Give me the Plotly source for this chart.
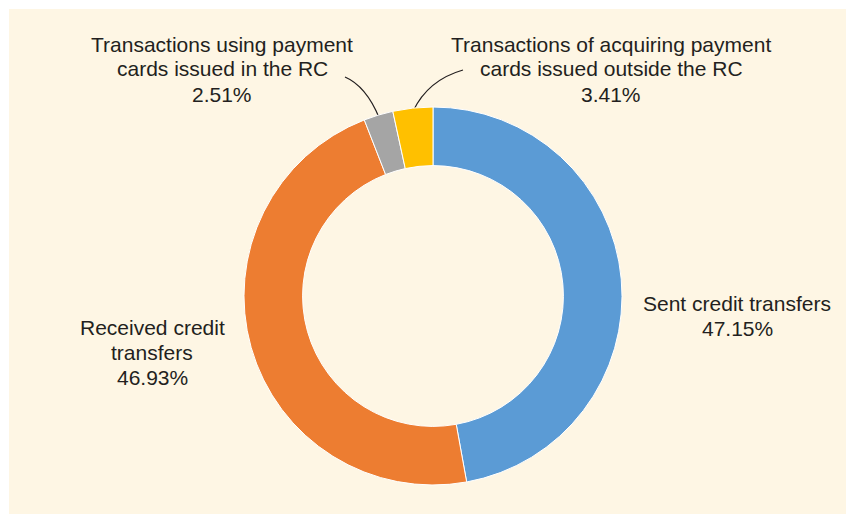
import math
import plotly.graph_objects as go

# ---- data ----
labels = [
    "Sent credit transfers",
    "Received credit transfers",
    "Transactions using payment cards issued in the RC",
    "Transactions of acquiring payment cards issued outside the RC",
]
values = [47.15, 46.93, 2.51, 3.41]
label_lines = [
    ["Sent credit transfers", "47.15%"],
    ["Received credit", "transfers", "46.93%"],
    ["Transactions using payment", "cards issued in the RC", "2.51%"],
    ["Transactions of acquiring payment", "cards issued outside the RC", "3.41%"],
]
colors = ["#5B9BD5", "#ED7D31", "#A5A5A5", "#FFC000"]

W, H = 846, 514
CX, CY, R = 433, 296, 189  # donut centre/radius in pixels
TEXT = "#231F20"
FONT = "Liberation Sans, Arial, Helvetica, sans-serif"
LINE_H = 25

def px(x):
    return x / W

def py(y):
    return 1 - y / H

fig = go.Figure(go.Pie(
    labels=labels,
    values=values,
    sort=False,
    direction="clockwise",
    rotation=0,
    hole=0.69,
    marker=dict(colors=colors, line=dict(color="#FFFFFF", width=1)),
    textinfo="none",
    hoverinfo="label+percent",
    showlegend=False,
    domain=dict(x=[px(CX - R), px(CX + R)], y=[py(CY + R), py(CY - R)]),
))

# label anchor positions (pixel centre x, first-line centre y)
label_pos = [(737, 303), (152, 327), (222, 44), (611, 44)]
for lines, (x, y) in zip(label_lines, label_pos):
    for k, line in enumerate(lines):
        fig.add_annotation(
            x=px(x), y=py(y + k * LINE_H), xref="paper", yref="paper",
            text=line, showarrow=False, xanchor="center", yanchor="middle",
            font=dict(family=FONT, size=21, color=TEXT), align="center",
        )

# leader lines for small slices: end at slice mid-angle just outside the ring
total = sum(values)
cum = [sum(values[:i]) for i in range(len(values))]
def mid_point(i, rr):
    frac = (cum[i] + values[i] / 2) / total
    th = 2 * math.pi * frac
    return CX + rr * math.sin(th), CY - rr * math.cos(th)

leaders = {2: ((345, 77), (366, 86)), 3: ((463, 70), (428, 80))}
shapes = [dict(type="rect", xref="paper", yref="paper", x0=px(9), x1=1.02, y0=-0.02, y1=py(9),
               fillcolor="#FEF6E4", line=dict(width=0), layer="below")]
for i, (start, ctrl) in leaders.items():
    ex, ey = mid_point(i, R - 3)
    path = "M {},{} Q {},{} {},{}".format(px(start[0]), py(start[1]), px(ctrl[0]), py(ctrl[1]), px(ex), py(ey))
    shapes.append(dict(type="path", xref="paper", yref="paper", path=path,
                       line=dict(color=TEXT, width=1.3), layer="below"))

fig.update_layout(
    width=W, height=H,
    margin=dict(l=0, r=0, t=0, b=0),
    paper_bgcolor="#FFFFFF",
    plot_bgcolor="#FFFFFF",
    shapes=shapes,
)

fig.write_html("out.html", config={"displayModeBar": False},
               post_script="document.body.style.margin='0';")
